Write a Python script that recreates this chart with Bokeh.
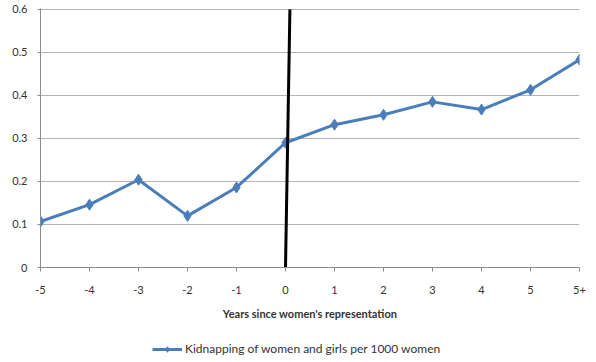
from bokeh.plotting import figure
from bokeh.layouts import column
from bokeh.models import Legend, LegendItem, FixedTicker, Range1d
from bokeh.embed import file_html
from bokeh.resources import INLINE

categories = ["-5", "-4", "-3", "-2", "-1", "0", "1", "2", "3", "4", "5", "5+"]
positions = [-5, -4, -3, -2, -1, 0, 1, 2, 3, 4, 5, 6]
kidnapping = [0.107, 0.146, 0.204, 0.120, 0.186, 0.290, 0.332, 0.355, 0.385, 0.367, 0.413, 0.483]
marker_x = [0.0, 0.09]
marker_y = [0.0, 0.6]
y_ticks = [0, 0.1, 0.2, 0.3, 0.4, 0.5, 0.6]
series_name = "Kidnapping of women and girls per 1000 women"

FONT = "Lato"
BLUE = "#4a7ebb"

p = figure(width=591, height=322, output_backend="svg", toolbar_location=None,
           x_range=Range1d(-5, 6), y_range=Range1d(0, 0.602),
           min_border_left=40, min_border_right=12, min_border_top=8, min_border_bottom=55)
p.outline_line_color = None
p.background_fill_color = "white"

# axes
p.xaxis.ticker = FixedTicker(ticks=positions)
p.xaxis.major_label_overrides = {pos: lab for pos, lab in zip(positions, categories)}
p.xaxis.axis_label = "Years since women's representation"
p.xaxis.axis_label_text_font = FONT
p.xaxis.axis_label_text_font_style = "bold"
p.xaxis.axis_label_text_font_size = "11px"
p.xaxis.axis_label_text_color = "#333333"
p.xaxis.axis_label_standoff = 10
p.xaxis.major_label_text_font = FONT
p.xaxis.major_label_text_font_size = "11px"
p.xaxis.major_label_text_color = "#333333"
p.xaxis.major_label_standoff = 14
p.xaxis.axis_line_color = "#8c8c8c"
p.xaxis.major_tick_line_color = "#8c8c8c"
p.xaxis.major_tick_out = 4
p.xaxis.major_tick_in = 0
p.xaxis.minor_tick_line_color = None

p.yaxis.ticker = FixedTicker(ticks=y_ticks)
p.yaxis.major_label_overrides = {0: "0"}
p.yaxis.major_label_text_font = FONT
p.yaxis.major_label_text_font_size = "11px"
p.yaxis.major_label_text_color = "#333333"
p.yaxis.major_label_standoff = 10
p.yaxis.axis_line_color = "#8c8c8c"
p.yaxis.major_tick_line_color = "#8c8c8c"
p.yaxis.major_tick_out = 3
p.yaxis.major_tick_in = 0
p.yaxis.minor_tick_line_color = None

p.xgrid.grid_line_color = None
p.ygrid.grid_line_color = "#b3b3b3"
p.ygrid.grid_line_width = 1

# data series
p.line(positions, kidnapping, line_color=BLUE, line_width=3)
p.scatter(positions, kidnapping, marker="diamond", size=11, fill_color=BLUE, line_color=BLUE)

# vertical reference line
p.line(marker_x, marker_y, line_color="black", line_width=3)

# legend strip: a small figure whose view excludes the data, holding only the legend
lg = figure(width=591, height=40, output_backend="svg", toolbar_location=None,
            x_range=Range1d(-5, 6), y_range=Range1d(5, 6),
            min_border_left=0, min_border_right=0, min_border_top=0, min_border_bottom=0)
lg.axis.visible = False
lg.grid.grid_line_color = None
lg.outline_line_color = None
lg_ln = lg.line(positions, kidnapping, line_color=BLUE, line_width=3)
lg_mk = lg.scatter(positions, kidnapping, marker="diamond", size=10, fill_color=BLUE, line_color=BLUE)
legend = Legend(items=[LegendItem(label=series_name, renderers=[lg_ln, lg_mk])],
                orientation="horizontal", location=(112, 6),
                label_text_font=FONT, label_text_font_size="12px", label_text_color="#333333",
                border_line_color=None, background_fill_alpha=0,
                glyph_width=30, glyph_height=14, label_height=14,
                label_standoff=3, padding=0, margin=0)
lg.add_layout(legend, "center")

layout = column(p, lg, spacing=0)
open("out.html", "w").write(file_html(layout, INLINE))
